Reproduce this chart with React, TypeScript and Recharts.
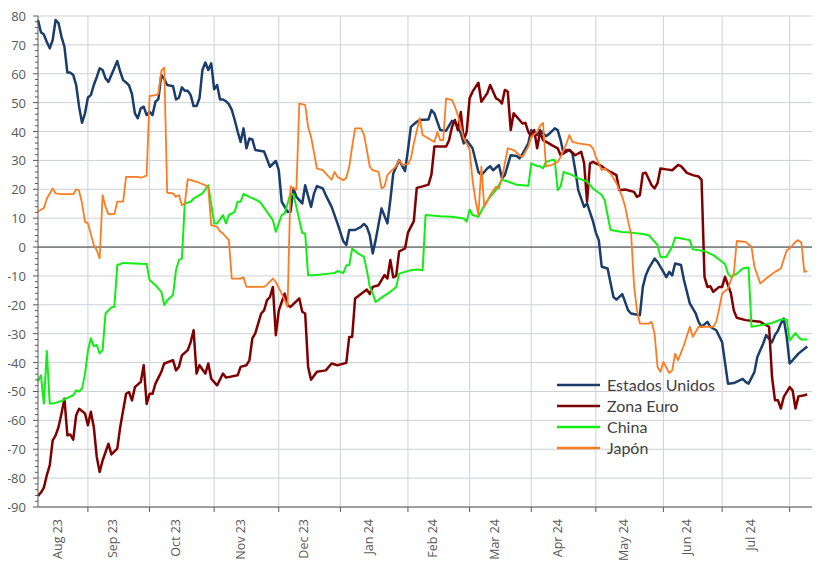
import { CartesianGrid, Legend, Line, LineChart, ReferenceLine, XAxis, YAxis } from 'recharts'

// x = business day counted from 9 Aug 2023
const monthLabels = ['Aug 23', 'Sep 23', 'Oct 23', 'Nov 23', 'Dec 23', 'Jan 24', 'Feb 24', 'Mar 24', 'Apr 24', 'May 24', 'Jun 24', 'Jul 24']
const monthStarts = [0, 17, 38, 60, 82, 103, 126, 147, 168, 190, 213, 233, 256]
const yTicks = [-90, -80, -70, -60, -50, -40, -30, -20, -10, 0, 10, 20, 30, 40, 50, 60, 70, 80]

const estadosUnidos: [number, number][] = [
  [0, 78.6], [1, 74.4], [2, 73.6], [3, 71], [4, 68.8], [5, 71.7], [6, 78.6], [7, 77.5], [8, 72.8], [9, 69.4],
  [10, 60.4], [11, 60.4], [12, 59.6], [13, 56.1], [14, 48.6], [15, 43], [16, 46.3], [17, 51.8], [18, 52.6], [19, 56.1],
  [20, 58.8], [21, 61.9], [22, 61.3], [23, 58.4], [24, 57.2], [25, 59.6], [27, 64.4], [28, 60.7], [29, 57.8], [30, 57],
  [31, 56], [32, 53], [33, 46.3], [34, 44.6], [35, 48], [36, 48.6], [37, 45.7], [38, 46.8], [39, 45.7], [40, 50.3],
  [41, 51.2], [42, 59.6], [43, 58.2], [44, 56.1], [46, 55.7], [47, 51.1], [48, 51.7], [49, 55.3], [50, 54.1], [51, 54.1],
  [52, 52.6], [53, 48.8], [54, 48.8], [55, 51.5], [56, 61.3], [57, 63.9], [58, 61.3], [59, 63.6], [60, 54.6], [61, 56.1],
  [62, 51.1], [63, 51.1], [64, 50.5], [65, 49.5], [66, 47.5], [67, 44], [68, 40], [69, 36.4], [70, 41.1], [71, 34.2],
  [72, 37.6], [73, 37.3], [74, 33.6], [77, 33.1], [79, 27.8], [81, 29.8], [82, 26.6], [83, 15.7], [85, 12.2], [86, 12.2],
  [87, 20.3], [88, 17.4], [90, 15.1], [91, 21.4], [93, 13.9], [94, 18.5], [95, 21.1], [97, 20.3], [98, 18], [100, 13.9],
  [102, 8.2], [104, 2], [105, 0.7], [106, 5.9], [108, 5.9], [110, 7], [111, 8], [112, 7], [113, 4.1], [114, -2.2],
  [115, 2.4], [117, 13.4], [119, 8.2], [120, 16.2], [121, 25.5], [123, 30.1], [125, 26.3], [126, 33.6], [127, 41.6], [129, 43.4],
  [130, 44], [133, 44.2], [134, 47.4], [135, 46.3], [137, 40.5], [139, 40.3], [141, 43.7], [142, 43.4], [144, 39.4], [145, 35.9],
  [146, 37], [148, 34.2], [150, 26], [151, 24.9], [153, 27.2], [154, 28], [155, 26.6], [157, 28.4], [158, 23.8], [159, 24.9],
  [161, 31.8], [163, 31.5], [164, 30.7], [165, 32.2], [167, 35.9], [168, 40.5], [170, 38.8], [171, 40.5], [173, 38.4], [174, 39.1],
  [176, 41.1], [177, 40.5], [178, 37], [179, 32.4], [181, 33.6], [182, 32.4], [183, 26.6], [184, 19.7], [186, 13.9], [187, 15.1],
  [189, 9], [190, 5], [191, 2.4], [192, -6.8], [194, -7.4], [196, -17.3], [197, -18.2], [199, -16.3], [201, -21.9], [202, -23],
  [205, -23.6], [206, -13.8], [207, -9.8], [208, -7.4], [210, -4], [211, -5.1], [213, -8.6], [214, -10.4], [215, -8.6], [216, -9.8],
  [217, -5.7], [219, -6.2], [220, -11.4], [222, -19.5], [224, -23], [225, -25.9], [226, -27.6], [228, -25.9], [229, -27.6], [231, -28.8],
  [233, -32.9], [235, -47.3], [237, -47.1], [240, -45.6], [241, -46.7], [242, -47.3], [244, -43.3], [245, -38.1], [247, -33.4], [248, -30.5],
  [250, -33], [251, -30.5], [252, -29], [253, -26.5], [254, -24.8], [255, -31.1], [256, -40.3], [257, -39.2], [259, -36.9], [262, -34.4],
]

const zonaEuro: [number, number][] = [
  [0, -86.2], [1, -85], [2, -83.3], [3, -79], [4, -75.6], [5, -66.9], [6, -65.2], [7, -62.3], [8, -57.6], [9, -52.5],
  [10, -65.2], [11, -64.9], [12, -66.7], [13, -58.2], [14, -56], [16, -57.6], [17, -61.7], [18, -57], [19, -62.3], [20, -72.6],
  [21, -77.9], [22, -73.9], [24, -68.1], [25, -71.8], [27, -69.8], [28, -62.3], [30, -50.8], [31, -50.2], [32, -53.1], [33, -48.5],
  [35, -46.7], [36, -40.9], [37, -54.3], [38, -50.8], [39, -50.8], [40, -47.3], [42, -43.2], [43, -40.3], [46, -39.2], [47, -42.7],
  [48, -41.5], [49, -37.5], [51, -35.7], [52, -32.9], [53, -28.8], [54, -43.8], [55, -40.9], [57, -43.8], [58, -40.3], [59, -45.6],
  [61, -47.9], [63, -43.8], [64, -45.2], [68, -44.4], [69, -41.5], [71, -40.9], [72, -39.2], [73, -31.6], [74, -29.9], [76, -23],
  [77, -21.9], [78, -18.4], [79, -17.3], [80, -13.8], [81, -30.5], [82, -22], [84, -16.1], [85, -20.1], [86, -20.7], [89, -17.8],
  [90, -22.4], [91, -23], [92, -41.5], [93, -45.9], [95, -43.2], [98, -42.7], [100, -40.3], [102, -40.9], [105, -40.1], [106, -31.1],
  [107, -31.1], [108, -17.8], [109, -17], [111, -15.5], [112, -14.7], [113, -16.3], [114, -13.8], [116, -13.2], [118, -9.7], [119, -10.9],
  [120, -4.5], [121, -10.5], [122, -10], [123, -1.5], [125, -0.5], [126, 5], [128, 9], [129, 20.5], [131, 21], [133, 21.6],
  [134, 25.1], [135, 34.8], [137, 34.8], [139, 34.8], [140, 37], [141, 41.6], [142, 44], [143, 40.5], [144, 46.8], [145, 37],
  [146, 39.9], [147, 51.5], [148, 53.8], [150, 56.9], [151, 50.3], [153, 53.2], [154, 56.1], [156, 51.5], [157, 50.9], [158, 49.7],
  [159, 54.4], [160, 53.8], [161, 40.5], [162, 46.3], [164, 44], [165, 42.8], [166, 43], [167, 39.9], [168, 38.2], [169, 40.5],
  [170, 34.2], [171, 39.9], [172, 37], [174, 35.9], [175, 35.3], [177, 34.2], [178, 31.8], [180, 33.6], [181, 33.6], [183, 31.8],
  [185, 33], [186, 29], [187, 15.7], [188, 29], [189, 29.5], [190, 29], [192, 28], [193, 27.2], [195, 26], [197, 24.9],
  [198, 19.7], [200, 19.9], [203, 19.1], [204, 17.4], [205, 18], [206, 25.5], [207, 25.7], [209, 21.4], [210, 20.3], [211, 22.1],
  [212, 27.2], [214, 26.9], [216, 26.6], [218, 28.4], [219, 28], [221, 25.7], [223, 24.9], [225, 24.4], [226, 23.3], [227, -10.3],
  [228, -13.8], [229, -13.6], [230, -15.5], [232, -13.8], [233, -13.8], [234, -10.3], [236, -16], [237, -22], [238, -24.5], [241, -25.3],
  [246, -25.9], [249, -27.6], [250, -45], [251, -53], [252, -53], [253, -55.9], [254, -51.9], [256, -48.5], [257, -49.6], [258, -55.9],
  [259, -51.7], [261, -51.3], [262, -51],
]

const china: [number, number][] = [
  [0, -46.5], [1, -44.4], [2, -54.2], [3, -36], [4, -54.2], [5, -54.2], [8, -53.3], [10, -52.2], [12, -51.3], [13, -49.6],
  [14, -50], [15, -49], [16, -44], [17, -36], [18, -31.6], [19, -34.3], [20, -33.9], [21, -36.8], [22, -35.7], [23, -23],
  [25, -20.9], [26, -20.7], [27, -6.3], [29, -5.5], [37, -5.9], [38, -11.4], [40, -13.2], [42, -15.5], [43, -20.1], [44, -18.4],
  [46, -16.6], [47, -8], [48, -4.5], [49, -3.9], [50, 15.1], [52, 15.7], [53, 16.8], [56, 18.6], [58, 21.4], [60, 8.2],
  [61, 8.2], [63, 11.1], [64, 8.2], [65, 11.1], [67, 12.2], [68, 15.7], [69, 15.7], [70, 18.4], [72, 17.4], [75, 16],
  [76, 15.1], [78, 12.2], [80, 9.3], [81, 5.3], [83, 11.1], [84, 11.6], [86, 18.6], [87, 18.2], [88, 13.9], [90, 4.9],
  [91, 4.7], [92, -9.8], [94, -9.8], [99, -9.2], [101, -9], [102, -8.3], [104, -9], [105, -6.3], [106, -6.3], [107, -0.5],
  [109, -2.2], [111, -3.4], [112, -8], [113, -13.8], [114, -16.1], [115, -19], [117, -17.5], [120, -15.5], [122, -13.8], [123, -9.2],
  [127, -8], [129, -7.8], [131, -8], [132, 11.1], [137, 10.7], [141, 10.5], [145, 9.9], [146, 8.8], [147, 13], [148, 11.1],
  [150, 10.5], [152, 14.5], [154, 17.4], [156, 19.8], [158, 23.3], [160, 22.7], [163, 21.6], [167, 21.2], [168, 29], [170, 28],
  [171, 28], [172, 27.2], [173, 29.5], [175, 30.1], [176, 30.1], [177, 19.7], [178, 21], [179, 26], [182, 24.9], [184, 23.8],
  [187, 22.7], [189, 20.3], [192, 18], [193, 16.2], [195, 5.9], [199, 5.2], [202, 5], [206, 4.5], [208, 4.1], [209, 3],
  [211, 0.7], [212, -3.4], [214, -3.4], [216, 0.1], [217, 3.3], [219, 3], [222, 2.4], [223, -0.8], [227, -1.4], [230, -2.8],
  [233, -5.1], [234, -5.9], [235, -9.2], [236, -10.3], [238, -9.2], [240, -7.4], [242, -7.1], [243, -27.6], [246, -27.1], [250, -26.3],
  [253, -25.1], [255, -25.1], [256, -32.3], [258, -29.8], [259, -31.1], [260, -32], [262, -32],
]

const japon: [number, number][] = [
  [0, 12.3], [2, 13.5], [3, 16.8], [5, 20.3], [6, 18.6], [8, 18.3], [12, 18.3], [13, 20], [14, 19.5], [15, 15.1],
  [16, 8.8], [17, 8.2], [19, 0.7], [20, -1.1], [21, -3.9], [22, 18], [23, 13.9], [24, 11.4], [26, 11.4], [27, 15.7],
  [29, 15.7], [30, 24.3], [34, 24.3], [35, 24], [37, 24.7], [38, 52.3], [40, 52.6], [41, 53], [42, 61], [43, 62.1],
  [44, 18.8], [46, 18.6], [47, 17.4], [48, 18], [49, 14.5], [50, 15.1], [51, 23.5], [54, 22.6], [57, 21.4], [58, 20.5],
  [59, 7.6], [61, 7], [62, 5.5], [63, 4.7], [64, 3.5], [65, 2.4], [66, -10.9], [69, -10.9], [70, -10.5], [71, -13.8],
  [77, -13.8], [78, -13], [80, -10.9], [81, -12.1], [83, -16.1], [84, -18.4], [85, -20.7], [86, 21], [88, 19.8], [89, 49.7],
  [91, 49.2], [92, 41.6], [93, 38.2], [95, 27.2], [97, 26.6], [98, 25.5], [100, 23.3], [101, 26], [102, 24.3], [104, 23.1],
  [105, 24], [106, 27.8], [107, 34.8], [108, 41.1], [110, 41.1], [111, 39], [112, 33.6], [113, 27.8], [114, 26.6], [116, 26],
  [117, 20.3], [118, 21], [119, 24.9], [120, 26], [122, 28], [123, 30.1], [124, 28.5], [126, 28.7], [127, 30.7], [128, 35.9],
  [130, 44.6], [131, 38.8], [133, 37.6], [135, 36.4], [136, 39.9], [137, 37], [138, 37], [139, 51.5], [141, 50.9], [142, 48.6],
  [143, 45.7], [145, 37.6], [146, 35.9], [147, 33.6], [148, 23.2], [149, 16.2], [150, 11.1], [151, 27.8], [152, 13.9], [154, 18],
  [156, 20.9], [157, 20.3], [158, 23.8], [160, 34.2], [162, 33.6], [164, 31.8], [165, 31.2], [167, 34.8], [168, 38.2], [170, 39.9],
  [171, 42], [172, 43], [173, 28], [175, 28.4], [177, 29.5], [178, 31.2], [180, 35.9], [181, 38.8], [182, 36.4], [184, 35.9],
  [188, 35.3], [189, 34.2], [190, 31.2], [191, 29], [192, 26.6], [193, 27.2], [195, 25.5], [197, 22.1], [199, 17.4], [200, 13.9],
  [201, 8.8], [202, 4.7], [203, -13.2], [204, -21.9], [205, -26.5], [208, -26.5], [209, -25.9], [210, -30], [211, -41.5], [212, -43.2],
  [213, -39.8], [215, -43.6], [216, -42.7], [217, -36.9], [218, -39.2], [220, -34], [222, -27.6], [223, -31.1], [225, -27.6], [230, -27.6],
  [231, -25.9], [232, -21.3], [233, -16.1], [235, -14.4], [236, -11.5], [237, -9], [238, 2.1], [241, 1.8], [243, 0.1], [244, -6.8],
  [246, -12.6], [248, -10.9], [251, -8.6], [253, -7.4], [255, -1.1], [256, -0.5], [258, 1.8], [259, 2.4], [260, 1.5], [261, -8.6],
  [262, -8.3],
]

const SERIES = [
  { name: 'Estados Unidos', points: estadosUnidos, color: '#1b3d6b', width: 2.5 },
  { name: 'Zona Euro', points: zonaEuro, color: '#800000', width: 2.5 },
  { name: 'China', points: china, color: '#11ee11', width: 2 },
  { name: 'Japón', points: japon, color: '#ff7b22', width: 1.8 },
]

const FONT = '"Open Sans", "DejaVu Sans", sans-serif'
const TEXT = '#595959'

// labels sit mid-month, tick marks at month starts
const labelTicks = monthLabels.map((_, i) => (monthStarts[i] + monthStarts[i + 1]) / 2 - 2)
const xTicks = [...monthStarts.slice(1, -1), ...monthStarts.slice(-1), ...labelTicks].sort((a, b) => a - b)
const yMinor: number[] = []
for (let v = -90; v <= 80; v += 2) yMinor.push(v)

function XTick({ x, y, payload }: any) {
  const i = labelTicks.indexOf(payload.value)
  if (i < 0) {
    return <line x1={x} y1={y} x2={x} y2={y + 5} stroke={TEXT} strokeWidth={1} />
  }
  const ty = y + 12
  return (
    <text
      x={x}
      y={ty}
      transform={`rotate(-90, ${x}, ${ty})`}
      textAnchor="end"
      dominantBaseline="central"
      fontSize={12.5}
      fontFamily={FONT}
      fill={TEXT}
    >
      {monthLabels[i]}
    </text>
  )
}

function YTick({ x, y, payload }: any) {
  const major = payload.value % 10 === 0
  return (
    <g>
      <line x1={x - (major ? 5 : 3)} y1={y} x2={x} y2={y} stroke={TEXT} strokeWidth={1} />
      {major && (
        <text x={x - 12} y={y} textAnchor="end" dominantBaseline="central" fontSize={13} fontFamily={FONT} fill={TEXT}>
          {payload.value}
        </text>
      )}
    </g>
  )
}

function LegendBox() {
  return (
    <div style={{ fontFamily: 'Lato, "Open Sans", sans-serif', fontSize: 16, color: '#404040' }}>
      {SERIES.map((s) => (
        <div key={s.name} style={{ display: 'flex', alignItems: 'center', height: 21 }}>
          <svg width={43} height={6} style={{ marginRight: 7 }}>
            <line x1={0} y1={3} x2={43} y2={3} stroke={s.color} strokeWidth={2.5} />
          </svg>
          <span>{s.name}</span>
        </div>
      ))}
    </div>
  )
}

export default function App() {
  return (
    <LineChart width={812} height={557} margin={{ top: 8, right: 1, bottom: 0, left: 0 }}>
      <CartesianGrid
        stroke="#cdd1d5"
        horizontalValues={yTicks}
        verticalValues={monthStarts.slice(1)}
      />
      <XAxis
        dataKey="d"
        type="number"
        domain={[0, 266]}
        ticks={xTicks}
        interval={0}
        tick={<XTick />}
        tickLine={false}
        tickSize={0}
        tickMargin={0}
        axisLine={{ stroke: TEXT }}
        height={58}
        allowDuplicatedCategory={false}
      />
      <YAxis
        type="number"
        domain={[-90, 80]}
        ticks={yMinor}
        interval={0}
        tick={<YTick />}
        tickLine={false}
        tickSize={0}
        tickMargin={0}
        axisLine={{ stroke: TEXT }}
        width={30}
      />
      <ReferenceLine y={0} stroke="#3a3a3a" strokeWidth={1} />
      {SERIES.map((s) => (
        <Line
          key={s.name}
          name={s.name}
          data={s.points.map(([d, v]) => ({ d, v }))}
          dataKey="v"
          stroke={s.color}
          strokeWidth={s.width}
          strokeLinejoin="round"
          dot={false}
          activeDot={false}
          isAnimationActive={false}
        />
      ))}
      <Legend
        layout="vertical"
        align="center"
        verticalAlign="middle"
        content={<LegendBox />}
        wrapperStyle={{ left: 549, top: 366, width: 200 }}
      />
    </LineChart>
  )
}
